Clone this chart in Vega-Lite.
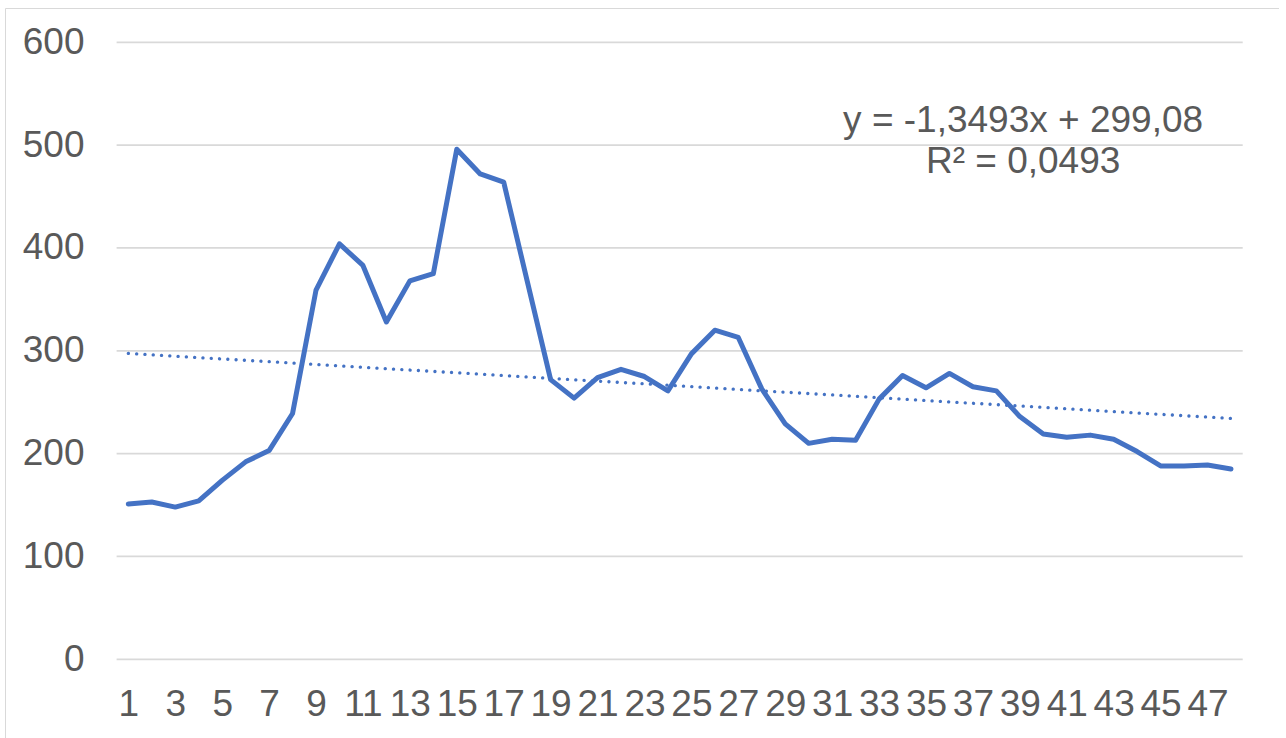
{
  "$schema": "https://vega.github.io/schema/vega-lite/v6.json",
  "autosize": {"type": "none"},
  "padding": {"left": 5, "top": 8, "right": 0, "bottom": 0},
  "width": 1274,
  "height": 740,
  "background": "white",
  "config": {
    "view": {"stroke": "#d9d9d9", "strokeWidth": 1},
    "font": "Liberation Sans",
    "axis": {
      "title": null, "grid": false, "domain": false, "ticks": false, "tickSize": 0,
      "labelFontSize": 37, "labelColor": "#595959", "labelFont": "Liberation Sans",
      "labelPadding": 0, "labelOverlap": false, "labelFlush": false, "labelBound": false
    }
  },
  "datasets": {
    "series": [
      {"idx": 1, "value": 151}, {"idx": 2, "value": 153}, {"idx": 3, "value": 148}, {"idx": 4, "value": 154},
      {"idx": 5, "value": 174}, {"idx": 6, "value": 192}, {"idx": 7, "value": 203}, {"idx": 8, "value": 239},
      {"idx": 9, "value": 359}, {"idx": 10, "value": 404}, {"idx": 11, "value": 383}, {"idx": 12, "value": 328},
      {"idx": 13, "value": 368}, {"idx": 14, "value": 375}, {"idx": 15, "value": 496}, {"idx": 16, "value": 472},
      {"idx": 17, "value": 464}, {"idx": 18, "value": 368}, {"idx": 19, "value": 272}, {"idx": 20, "value": 254},
      {"idx": 21, "value": 274}, {"idx": 22, "value": 282}, {"idx": 23, "value": 275}, {"idx": 24, "value": 261},
      {"idx": 25, "value": 297}, {"idx": 26, "value": 320}, {"idx": 27, "value": 313}, {"idx": 28, "value": 263},
      {"idx": 29, "value": 229}, {"idx": 30, "value": 210}, {"idx": 31, "value": 214}, {"idx": 32, "value": 213},
      {"idx": 33, "value": 253}, {"idx": 34, "value": 276}, {"idx": 35, "value": 264}, {"idx": 36, "value": 278},
      {"idx": 37, "value": 265}, {"idx": 38, "value": 261}, {"idx": 39, "value": 236}, {"idx": 40, "value": 219},
      {"idx": 41, "value": 216}, {"idx": 42, "value": 218}, {"idx": 43, "value": 214}, {"idx": 44, "value": 202},
      {"idx": 45, "value": 188}, {"idx": 46, "value": 188}, {"idx": 47, "value": 189}, {"idx": 48, "value": 185}
    ],
    "grid": [
      {"g": 0}, {"g": 100}, {"g": 200}, {"g": 300}, {"g": 400}, {"g": 500}, {"g": 600}
    ],
    "note": [
      {"label": "trend"}
    ]
  },
  "layer": [
    {
      "data": {"name": "grid"},
      "mark": {"type": "rule", "color": "#d9d9d9", "strokeWidth": 1.75},
      "encoding": {
        "x": {
          "datum": 0.5, "type": "quantitative",
          "scale": {"domain": [0.5, 48.5], "range": [111.6, 1237.7], "nice": false, "zero": false},
          "axis": {
            "title": null, "orient": "bottom",
            "values": [1, 3, 5, 7, 9, 11, 13, 15, 17, 19, 21, 23, 25, 27, 29, 31, 33, 35, 37, 39, 41, 43, 45, 47],
            "labelBaseline": "alphabetic", "offset": -33
          }
        },
        "x2": {"datum": 48.5},
        "y": {
          "field": "g", "type": "quantitative",
          "scale": {"domain": [0, 600], "range": [651.3, 34.3], "nice": false, "zero": false},
          "axis": {
            "title": null, "orient": "left",
            "values": [0, 100, 200, 300, 400, 500, 600],
            "offset": -79, "labelAlign": "right", "labelBaseline": "middle"
          }
        }
      }
    },
    {
      "data": {"name": "series"},
      "mark": {"type": "line", "color": "#4472C4", "strokeWidth": 5, "strokeCap": "round", "strokeJoin": "round"},
      "encoding": {
        "x": {"field": "idx", "type": "quantitative", "title": null},
        "y": {"field": "value", "type": "quantitative", "title": null}
      }
    },
    {
      "data": {"name": "series"},
      "transform": [{"regression": "value", "on": "idx"}],
      "mark": {"type": "line", "color": "#4472C4", "strokeWidth": 3.3, "strokeDash": [0.1, 8.2], "strokeCap": "round"},
      "encoding": {
        "x": {"field": "idx", "type": "quantitative", "title": null},
        "y": {"field": "value", "type": "quantitative", "title": null}
      }
    },
    {
      "data": {"name": "note"},
      "mark": {"type": "text", "fontSize": 37, "color": "#595959", "font": "Liberation Sans", "align": "center", "baseline": "alphabetic", "lineHeight": 41.6},
      "encoding": {
        "x": {"datum": 39.14, "type": "quantitative"},
        "y": {"datum": 513, "type": "quantitative"},
        "text": {"value": ["y = -1,3493x + 299,08", "R² = 0,0493"]}
      }
    }
  ]
}
